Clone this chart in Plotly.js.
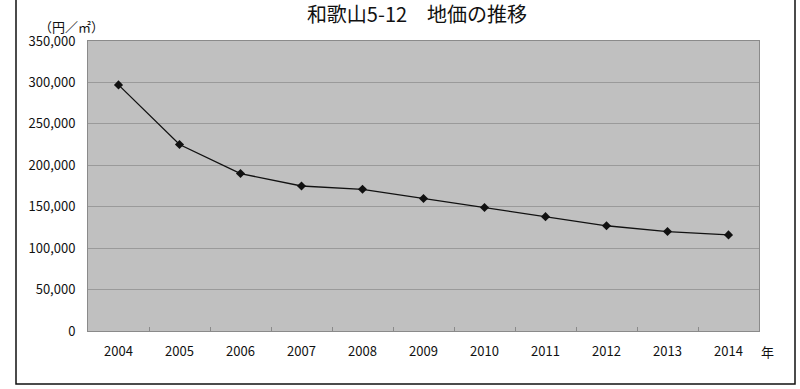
<!DOCTYPE html>
<html>
<head>
<meta charset="utf-8">
<script src="https://cdn.plot.ly/plotly-3.0.1.min.js"></script>
<style>html,body{margin:0;padding:0;background:#fff;}#chart{width:800px;height:389px;}</style>
</head>
<body>
<div id="chart"></div>
<script>
const years = ['2004','2005','2006','2007','2008','2009','2010','2011','2012','2013','2014'];
const prices = [297000, 225000, 190000, 175000, 171000, 160000, 149000, 138000, 127000, 120000, 116000];
const yTicks = [0, 50000, 100000, 150000, 200000, 250000, 300000, 350000];
const yTickLabels = ['0', '50,000', '100,000', '150,000', '200,000', '250,000', '300,000', '350,000'];
const chartTitle = '和歌山5-12　地価の推移';
const unitLabel = '（円／㎡）';
const xUnit = '年';

const font = 'Noto Sans CJK JP, Noto Sans, sans-serif';
const L = 88, R = 41, T = 41, B = 58;
const PW = 800 - L - R, PH = 389 - T - B;
const px = x => (x - L) / PW;
const py = y => (389 - B - y) / PH;

const trace = {
  x: years, y: prices, type: 'scatter', mode: 'lines+markers',
  line: {color: '#111', width: 1.3},
  marker: {symbol: 'diamond', size: 7, color: '#111'},
  hoverinfo: 'x+y'
};

const layout = {
  width: 800, height: 389,
  margin: {l: L, r: R, t: T, b: B, pad: 0},
  paper_bgcolor: '#ffffff', plot_bgcolor: '#c0c0c0',
  showlegend: false,
  font: {family: font, size: 13, color: '#111'},
  title: {text: chartTitle, font: {family: font, size: 20, color: '#111'},
          x: 417/800, xanchor: 'center', xref: 'container', y: 1 - 15/389, yanchor: 'middle', yref: 'container'},
  xaxis: {type: 'category', range: [-0.5, years.length - 0.5], autorange: false,
          showgrid: false, zeroline: false,
          showline: true, linecolor: '#8a8a8a', linewidth: 1, mirror: true,
          ticks: 'inside', tickson: 'boundaries', ticklen: 4, tickcolor: '#8a8a8a',
          tickfont: {family: font, size: 13, color: '#111'}, ticklabelstandoff: 8},
  yaxis: {range: [0, 350000], autorange: false, tickvals: yTicks, ticktext: yTickLabels,
          showgrid: true, gridcolor: '#9a9a9a', gridwidth: 1, zeroline: false,
          showline: true, linecolor: '#8a8a8a', linewidth: 1, mirror: true,
          ticks: '', tickfont: {family: font, size: 13, color: '#111'}, ticklabelstandoff: 9},
  annotations: [
    {text: unitLabel, xref: 'paper', yref: 'paper', x: px(71), y: py(26), xanchor: 'center', yanchor: 'middle',
     showarrow: false, font: {family: font, size: 13, color: '#111'}},
    {text: xUnit, xref: 'paper', yref: 'paper', x: px(767), y: py(351), xanchor: 'center', yanchor: 'middle',
     showarrow: false, font: {family: font, size: 13, color: '#111'}}
  ],
  shapes: [
    {type: 'rect', xref: 'paper', yref: 'paper', x0: px(16), x1: px(795), y0: py(384), y1: py(-10),
     line: {color: '#111', width: 1.5}, fillcolor: 'rgba(0,0,0,0)', layer: 'below'}
  ]
};

Plotly.newPlot('chart', [trace], layout, {displayModeBar: false, staticPlot: true});
</script>
</body>
</html>
